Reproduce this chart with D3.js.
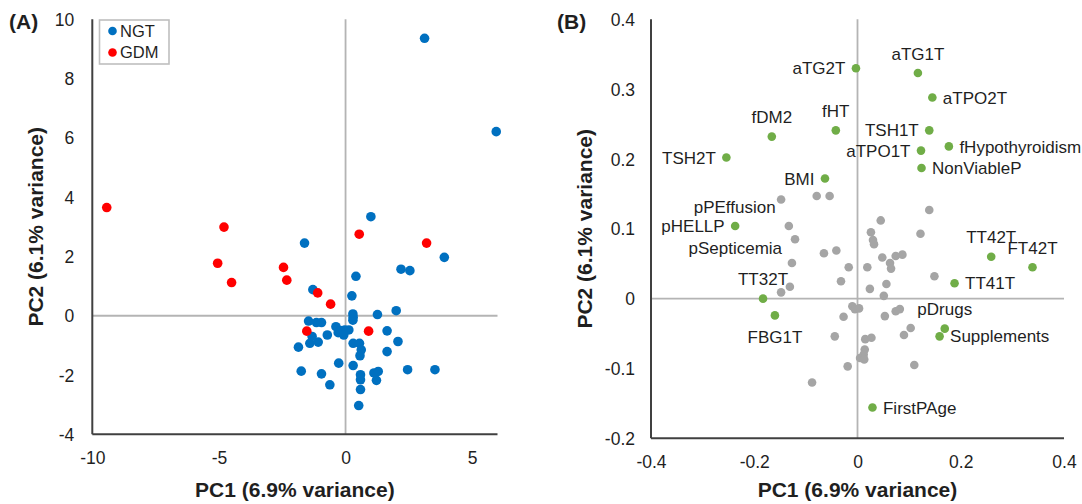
<!DOCTYPE html>
<html>
<head>
<meta charset="utf-8">
<script src="https://cdn.jsdelivr.net/npm/d3@7"></script>
<style>
  html, body { margin: 0; padding: 0; background: #fff; }
  svg { display: block; font-family: "Liberation Sans", Arial, sans-serif; }
</style>
</head>
<body>
<svg id="chart" width="1082" height="504"></svg>
<script>
// ---------------- Panel A data (sample scores) ----------------
const ngtX = [1.0, -1.62, 3.90, 2.19, 2.54, 0.41, -1.29, 0.25, 2.0, 1.26, 0.29, 0.29, 0.30,
  -1.46, -1.15, -0.95, -0.38, -0.2, -0.03, 0.13, -0.29, -0.07, -0.72, 1.64, -1.32, -1.41,
  -1.08, -1.86, 0.30, 0.55, 0.62, 0.57, 2.07, 1.64, -0.27, 0.30, -1.75, -0.95, 2.45, 3.53,
  1.12, 1.29, 1.22, 0.59, 0.59, -0.62, 0.59, 0.52, 3.12, 5.95];
const ngtY = [3.34, 2.45, 1.97, 1.57, 1.52, 1.33, 0.88, 0.67, 0.17, 0.04, 0.06, -0.15, -0.05,
  -0.18, -0.23, -0.23, -0.37, -0.5, -0.48, -0.48, -0.57, -0.65, -0.65, -0.51, -0.70, -0.93,
  -0.89, -1.06, -0.93, -0.93, -1.15, -1.35, -0.87, -1.21, -1.60, -1.68, -1.87, -1.96, -1.82, -1.82,
  -1.93, -1.88, -2.18, -1.99, -2.16, -2.33, -2.49, -3.03, 9.36, 6.21];
const gdmX = [-9.43, -4.80, -5.05, -4.50, -2.45, -2.32, -1.10, -0.59, -1.53, 0.54, 3.20, 0.91];
const gdmY = [3.65, 2.99, 1.77, 1.12, 1.63, 1.20, 0.77, 0.39, -0.52, 2.75, 2.45, -0.52];
const groupNames = ["NGT", "GDM"];
const aXTicks = [-10, -5, 0, 5];
const aYTicks = [-4, -2, 0, 2, 4, 6, 8, 10];

// ---------------- Panel B data (variable loadings) ----------------
const loadNames = ["aTG2T", "aTG1T", "aTPO2T", "fHT", "TSH1T", "fDM2", "fHypothyroidism",
  "aTPO1T", "TSH2T", "NonViableP", "BMI", "pHELLP", "TT42T", "FT42T", "TT41T", "TT32T",
  "FBG1T", "pDrugs", "Supplements", "FirstPAge"];
const loadX = [-0.003, 0.117, 0.145, -0.042, 0.139, -0.166, 0.177, 0.123, -0.254, 0.124,
  -0.063, -0.237, 0.259, 0.339, 0.188, -0.183, -0.160, 0.169, 0.159, 0.029];
const loadY = [0.330, 0.323, 0.288, 0.241, 0.241, 0.232, 0.218, 0.212, 0.202, 0.187,
  0.172, 0.104, 0.060, 0.045, 0.022, 0.000, -0.024, -0.043, -0.054, -0.156];
const greyNames = ["pPEffusion", "", "", "", "", "", "", "", "pSepticemia"];
const greyX = [-0.148, -0.079, -0.054, 0.139, 0.045, -0.133, 0.026, 0.122, -0.121, 0.030,
  0.032, -0.041, -0.065, 0.048, 0.074, 0.087, -0.127, 0.063, 0.065, -0.017, 0.019, 0.149,
  -0.032, 0.056, -0.131, 0.024, -0.148, 0.051, -0.010, -0.005, 0.003, 0.074, 0.082, -0.027,
  0.053, 0.103, 0.090, -0.044, 0.015, 0.027, 0.014, 0.012, 0.005, 0.013, -0.019, 0.110, -0.088];
const greyY = [0.142, 0.147, 0.147, 0.127, 0.112, 0.104, 0.095, 0.093, 0.085, 0.084,
  0.078, 0.069, 0.065, 0.059, 0.061, 0.063, 0.051, 0.051, 0.043, 0.045, 0.045, 0.032,
  0.025, 0.021, 0.017, 0.014, 0.009, 0.004, -0.011, -0.015, -0.014, -0.018, -0.015, -0.026,
  -0.025, -0.042, -0.052, -0.054, -0.058, -0.056, -0.073, -0.080, -0.085, -0.087, -0.097, -0.095, -0.120];
const bXTicks = [-0.4, -0.2, 0, 0.2, 0.4];
const bYTicks = [-0.2, -0.1, 0, 0.1, 0.2, 0.3, 0.4];

const xTitle = "PC1 (6.9% variance)";
const yTitle = "PC2 (6.1% variance)";

// ---------------- Drawing ----------------
const svg = d3.select("#chart");
const AXIS = "#404040", ZERO = "#b4b4b4", TXT = "#1f1f1f";

function panel(opts) {
  const g = svg.append("g");
  const x = d3.scaleLinear().domain(opts.xDomain).range(opts.xRange);
  const y = d3.scaleLinear().domain(opts.yDomain).range(opts.yRange);
  const [x0, x1] = opts.xRange, [y0, y1] = opts.yRange; // y0 bottom, y1 top

  // zero lines
  g.append("line").attr("x1", x(0)).attr("x2", x(0)).attr("y1", y1).attr("y2", y0)
    .attr("stroke", ZERO).attr("stroke-width", 1.8);
  g.append("line").attr("x1", x0).attr("x2", x1).attr("y1", y(0)).attr("y2", y(0))
    .attr("stroke", ZERO).attr("stroke-width", 1.8);

  // axes (labels only, via d3 axes)
  const ax = g.append("g").attr("transform", `translate(0,${y0})`)
    .call(d3.axisBottom(x).tickValues(opts.xTicks).tickSize(0).tickPadding(17).tickFormat(opts.fmt));
  const ay = g.append("g").attr("transform", `translate(${x0},0)`)
    .call(d3.axisLeft(y).tickValues(opts.yTicks).tickSize(0).tickPadding(opts.yPad).tickFormat(opts.fmt));
  [ax, ay].forEach(a => {
    a.select(".domain").remove();
    a.selectAll("text").attr("font-size", 17.5).attr("fill", TXT)
      .attr("font-family", '"Liberation Sans", Arial, sans-serif');
  });
  ay.selectAll("text").attr("dy", "0.35em");

  // axis lines
  g.append("line").attr("x1", x0).attr("x2", x0).attr("y1", y1).attr("y2", y0)
    .attr("stroke", AXIS).attr("stroke-width", 2);
  g.append("line").attr("x1", x0).attr("x2", x1).attr("y1", y0).attr("y2", y0)
    .attr("stroke", AXIS).attr("stroke-width", 2);

  // titles
  g.append("text").attr("x", (x0 + x1) / 2).attr("y", 497).attr("text-anchor", "middle")
    .attr("font-size", 21).attr("font-weight", "bold").attr("fill", TXT).text(xTitle);
  g.append("text").attr("transform", `translate(${opts.yTitleX},${(y0 + y1) / 2}) rotate(-90)`)
    .attr("text-anchor", "middle").attr("dy", "0.35em")
    .attr("font-size", 21).attr("font-weight", "bold").attr("fill", TXT).text(yTitle);
  g.append("text").attr("x", opts.tagX).attr("y", 29).attr("font-size", 21)
    .attr("font-weight", "bold").attr("fill", TXT).text(opts.tag);
  return { g, x, y };
}

// Panel A
const fmtA = d => d3.format("d")(d).replace("−", "-");
const A = panel({
  xDomain: [-10, 6], xRange: [92.3, 497.5], yDomain: [-4, 10], yRange: [434.3, 19.3],
  xTicks: aXTicks, yTicks: aYTicks, fmt: fmtA, yPad: 18, yTitleX: 36, tagX: 9, tag: "(A)"
});
const ngt = ngtX.map((v, i) => ({ x: v, y: ngtY[i] }));
const gdm = gdmX.map((v, i) => ({ x: v, y: gdmY[i] }));
A.g.append("g").selectAll("circle").data(ngt).join("circle")
  .attr("cx", d => A.x(d.x)).attr("cy", d => A.y(d.y)).attr("r", 4.8).attr("fill", "#0070C0");
A.g.append("g").selectAll("circle").data(gdm).join("circle")
  .attr("cx", d => A.x(d.x)).attr("cy", d => A.y(d.y)).attr("r", 4.8).attr("fill", "#FF0000");

// legend
const lg = A.g.append("g");
lg.append("rect").attr("x", 99.5).attr("y", 20).attr("width", 69.5).attr("height", 44)
  .attr("fill", "#fff").attr("stroke", "#bfbfbf").attr("stroke-width", 1.6);
const legCols = ["#0070C0", "#FF0000"];
groupNames.forEach((n, i) => {
  const cy = 31 + i * 21.5;
  lg.append("circle").attr("cx", 112.5).attr("cy", cy).attr("r", 4.3).attr("fill", legCols[i]);
  lg.append("text").attr("x", 120).attr("y", cy).attr("dy", "0.36em").attr("font-size", 16.5)
    .attr("fill", TXT).text(n);
});

// Panel B
const fmtB = d => (d === 0 ? "0" : d3.format(".1f")(d)).replace("−", "-");
const B = panel({
  xDomain: [-0.4, 0.4], xRange: [651, 1064], yDomain: [-0.2, 0.4], yRange: [438.3, 19.3],
  xTicks: bXTicks, yTicks: bYTicks, fmt: fmtB, yPad: 16, yTitleX: 585, tagX: 557, tag: "(B)"
});
const grey = greyX.map((v, i) => ({ x: v, y: greyY[i], name: greyNames[i] || "" }));
const load = loadX.map((v, i) => ({ x: v, y: loadY[i], name: loadNames[i] }));
B.g.append("g").selectAll("circle").data(grey).join("circle")
  .attr("cx", d => B.x(d.x)).attr("cy", d => B.y(d.y)).attr("r", 4.3).attr("fill", "#A5A5A5");
B.g.append("g").selectAll("circle").data(load).join("circle")
  .attr("cx", d => B.x(d.x)).attr("cy", d => B.y(d.y)).attr("r", 4.3).attr("fill", "#70AD47");

// label placement (style, not data)
const place = {
  aTG2T: "L", aTG1T: "T", aTPO2T: "R", fHT: "T", TSH1T: "L", fDM2: "T", fHypothyroidism: "R",
  aTPO1T: "L", TSH2T: "L", NonViableP: "R", BMI: "L", pHELLP: "L", TT42T: "T", FT42T: "T",
  TT41T: "R", TT32T: "T", FBG1T: "B", pDrugs: "T", Supplements: "R", FirstPAge: "R",
  pPEffusion: "L1", pSepticemia: "L2"
};
const off = {
  L: [-10.5, 0, "end"], R: [10.5, 0, "start"], T: [0, -19.5, "middle"], B: [0, 21.5, "middle"],
  L1: [-5.5, 7.5, "end"], L2: [-13, 8.5, "end"]
};
const labelled = load.concat(grey.filter(d => d.name));
B.g.append("g").selectAll("text").data(labelled).join("text")
  .attr("x", d => B.x(d.x) + off[place[d.name]][0])
  .attr("y", d => B.y(d.y) + off[place[d.name]][1])
  .attr("text-anchor", d => off[place[d.name]][2])
  .attr("dy", "0.36em").attr("font-size", 17).attr("fill", TXT).text(d => d.name);
</script>
</body>
</html>
